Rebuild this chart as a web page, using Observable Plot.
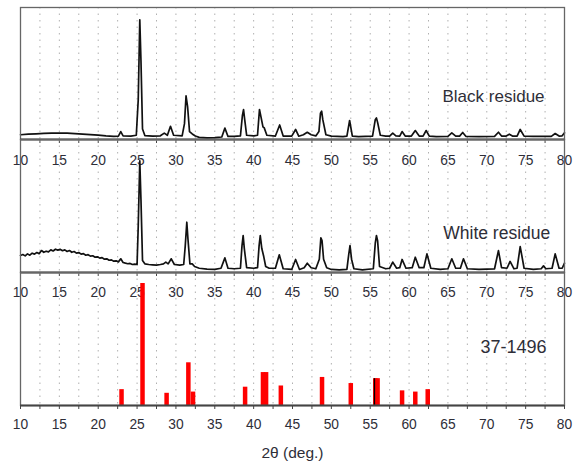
<!DOCTYPE html>
<html><head><meta charset="utf-8">
<script src="https://cdn.jsdelivr.net/npm/d3@7"></script>
<script src="https://cdn.jsdelivr.net/npm/@observablehq/plot@0.6"></script>
<style>
body{margin:0;background:#fff;}
#chart{position:relative;width:574px;height:463px;font-family:"Liberation Sans",Arial,sans-serif;}
#chart svg{position:absolute;left:0;}
</style></head><body><div id="chart"></div>
<script>
// 2θ tick values and labels
const tickValues = d3.range(10, 80.01, 2.5);
const gridValues = d3.range(12.5, 79.9, 2.5);

// Black residue pattern [2θ, relative intensity]
const blackResidue = [[10,3.6],[11,4.0],[12,4.3],[13,4.6],[14,4.8],[15,4.9],[16,4.8],[17,4.5],[18,4.1],[19,3.7],[20,3.3],[21,2.7],[22,2.4],[22.6,2.6],[22.9,6],[23.2,2.8],[24.2,2.6],[24.9,3.2],[25.15,30],[25.35,90.7],[25.5,60],[25.7,8],[26.0,3.0],[27,2.5],[28,2.8],[28.5,4.8],[28.9,3.2],[29.3,10],[29.7,3.2],[30.8,2.8],[31.1,12],[31.3,33],[31.5,25],[31.75,6],[32.1,4.2],[32.5,2.6],[33,1.6],[34,1.3],[35,1.4],[35.9,1.9],[36.3,8.6],[36.7,2.3],[37.5,2.3],[38.3,2.8],[38.55,18],[38.7,22.7],[38.85,15],[39.1,3.2],[40,2.7],[40.5,3.2],[40.75,22.7],[40.95,17],[41.2,9.5],[41.35,9],[41.7,3.2],[42.8,2.6],[43.35,11],[43.8,2.6],[44.9,2.5],[45.4,7.6],[45.8,2.5],[46.4,3.6],[46.9,5.5],[47.4,3.6],[48,2.7],[48.4,6],[48.6,20],[48.75,21.5],[48.9,15],[49.3,3.6],[50,2.6],[51.5,2.2],[52.0,2.6],[52.35,14.4],[52.7,2.6],[53.5,2.2],[55.3,2.6],[55.65,15],[55.8,16.4],[55.95,13],[56.3,3.2],[57,2.6],[57.5,2.6],[57.9,4.8],[58.3,2.8],[58.8,2.6],[59.1,6],[59.5,2.6],[60.3,2.6],[60.8,6.8],[61.3,2.6],[61.8,2.6],[62.2,6.8],[62.6,2.6],[63.5,2.2],[65,2.4],[65.5,5],[66,2.6],[66.5,2.6],[66.9,5.3],[67.3,2.4],[69,2.2],[71,2.4],[71.5,5.5],[71.9,2.6],[72.5,2.6],[72.9,4],[73.3,2.6],[73.9,2.6],[74.3,7.6],[74.8,2.6],[76,2.4],[78.3,2.4],[78.8,4.5],[79.3,2.6],[79.7,2.8],[80,5]];

// White residue pattern [2θ, relative intensity]
const whiteResidue = [[10,12.8],[10.3,13.5],[10.6,12.5],[10.9,14],[11.2,13],[11.5,14.5],[11.8,13.8],[12.1,15],[12.4,14.2],[12.7,16.5],[13,15.2],[13.3,16],[13.6,15.5],[13.9,17],[14.2,16.2],[14.5,17.5],[14.8,16.8],[15.1,17.4],[15.4,16.4],[15.7,17],[16,15.8],[16.3,16.5],[16.6,15.2],[16.9,15.8],[17.2,14.6],[17.5,15],[17.8,13.8],[18.1,14.2],[18.4,13],[18.7,13.4],[19,12.3],[19.3,12.6],[19.6,11.5],[19.9,11.8],[20.2,10.8],[20.5,11.2],[20.8,10],[21.1,10.3],[21.4,9.2],[21.7,9.5],[22,8.5],[22.3,8.8],[22.6,8],[22.9,10.3],[23.2,7.5],[23.5,7],[23.8,6.6],[24.1,6.8],[24.4,6],[24.7,6.3],[25.0,6],[25.15,35],[25.35,84],[25.5,55],[25.7,9],[26.0,6.5],[26.5,6],[27,5.8],[27.5,5.5],[28,6],[28.4,6.5],[28.7,7.8],[29,6.5],[29.4,10.3],[29.8,6],[30.5,5.5],[31.0,6],[31.2,20],[31.4,37.8],[31.55,25],[31.8,6.5],[32.1,6.5],[32.4,4.5],[33,3.2],[34,2.6],[35,2.4],[35.8,3.2],[36.3,11],[36.7,3.2],[37.5,2.8],[38.3,3.2],[38.5,20],[38.65,27.8],[38.8,18],[39.1,3.6],[40,3.2],[40.5,3.6],[40.7,20],[40.85,27.8],[41.05,18],[41.3,12],[41.55,4.5],[42,3.2],[42.8,3.2],[43.3,13.3],[43.8,2.8],[44.9,2.3],[45.4,9.8],[45.9,2.3],[46.5,3.6],[46.9,7],[47.4,3.6],[48,2.8],[48.45,10],[48.65,26],[48.8,24],[49,10],[49.4,3.6],[50,2.3],[51,2],[52,2.3],[52.2,12],[52.4,20.3],[52.6,10],[52.9,2.8],[54,2],[55.4,2.8],[55.65,22],[55.8,27.8],[55.95,24],[56.2,4.5],[57,2.8],[57.5,3.2],[57.9,7.8],[58.4,3.2],[58.8,3.6],[59.1,9.8],[59.6,3.2],[60.4,3.6],[60.8,11.5],[61.3,3.6],[61.9,3.6],[62.3,14],[62.8,3.2],[64,2.3],[65,2.8],[65.5,10.3],[66,3.2],[66.6,3.2],[67,10.3],[67.5,2.8],[69,2.3],[71,2.8],[71.5,16.5],[71.9,3.6],[72.6,3.2],[73,8.3],[73.5,2.8],[73.9,3.2],[74.3,19.5],[74.8,3.2],[76,2.3],[77,2.8],[77.3,5],[77.6,2.8],[78.4,3.2],[78.8,14],[79.3,3.2],[79.7,3.2],[80,7]];

// Reference card 37-1496 stick pattern
const refTheta = [23.0, 25.7, 28.8, 31.6, 32.2, 38.9, 41.2, 41.6, 43.5, 48.8, 52.5, 55.65, 55.95, 59.1, 60.8, 62.4];
const refIntensity = [13, 100, 10, 35, 11, 15, 27, 27, 16, 23, 18, 22, 22, 12, 11, 13];
const refLines = refTheta.map((t, i) => ({theta: t, intensity: refIntensity[i]}));
const markerLine = [{theta: 55.55, intensity: 22}];

const panelLabels = ["Black residue", "White residue", "37-1496"];
const axisTitle = "2θ (deg.)";

const W = 574;
const font = {fontFamily: "'Liberation Sans', Arial, sans-serif", background: "transparent", overflow: "visible"};
const textColor = "#2e2e38";

function xAxis(pad) {
  return Plot.axisX(tickValues, {
    tickSize: 4, tickPadding: pad, fontSize: 13.8, color: textColor, stroke: "#444",
    tickFormat: d => (d % 5 === 0 ? String(d) : ""), label: null
  });
}
function grid() {
  return Plot.ruleX(gridValues, {stroke: "#b0b0b0", strokeWidth: 1, strokeDasharray: "1.5,5"});
}
function baseMarks() {
  return [Plot.frame({stroke: "#666", strokeWidth: 1.3}), Plot.ruleY([0], {stroke: "#444", strokeWidth: 2})];
}

const chart = document.getElementById("chart");

function place(svg, top) { svg.style.top = top + "px"; chart.appendChild(svg); }

// Panel 1
place(Plot.plot({
  width: W, height: 174, marginTop: 7, marginBottom: 35, marginLeft: 20, marginRight: 10,
  style: font,
  x: {domain: [10, 80]}, y: {domain: [0, 100], axis: null},
  marks: [
    grid(),
    Plot.line(blackResidue, {x: d => d[0], y: d => d[1], stroke: "#111", strokeWidth: 1.7}),
    ...baseMarks(),
    xAxis(12),
    Plot.text([panelLabels[0]], {x: 64.3, y: 32.2, textAnchor: "start", lineAnchor: "middle", fontSize: 17, fill: textColor})
  ]
}), 0);

// Panel 2
place(Plot.plot({
  width: W, height: 170, marginTop: 2, marginBottom: 35, marginLeft: 20, marginRight: 10,
  style: font,
  x: {domain: [10, 80]}, y: {domain: [0, 100], axis: null},
  marks: [
    grid(),
    Plot.line(whiteResidue, {x: d => d[0], y: d => d[1], stroke: "#111", strokeWidth: 1.7}),
    ...baseMarks(),
    xAxis(11),
    Plot.text([panelLabels[1]], {x: 64.4, y: 29.1, textAnchor: "start", lineAnchor: "middle", fontSize: 17.5, fill: textColor})
  ]
}), 137);

// Panel 3
place(Plot.plot({
  width: W, height: 193, marginTop: 2, marginBottom: 58, marginLeft: 20, marginRight: 10,
  style: font,
  x: {domain: [10, 80]}, y: {domain: [0, 109], axis: null},
  marks: [
    grid(),
    Plot.ruleX(refLines, {x: "theta", y: "intensity", stroke: "#ff0000", strokeWidth: 4.5}),
    Plot.ruleX(markerLine, {x: "theta", y: "intensity", stroke: "#000", strokeWidth: 1.3}),
    ...baseMarks(),
    xAxis(10),
    Plot.text([panelLabels[2]], {x: 69.2, y: 47.8, textAnchor: "start", lineAnchor: "middle", fontSize: 18, fill: textColor}),
    Plot.text([axisTitle], {frameAnchor: "bottom", dy: 48, lineAnchor: "middle", fontSize: 15.5, fill: textColor})
  ]
}), 270);
</script></body></html>
